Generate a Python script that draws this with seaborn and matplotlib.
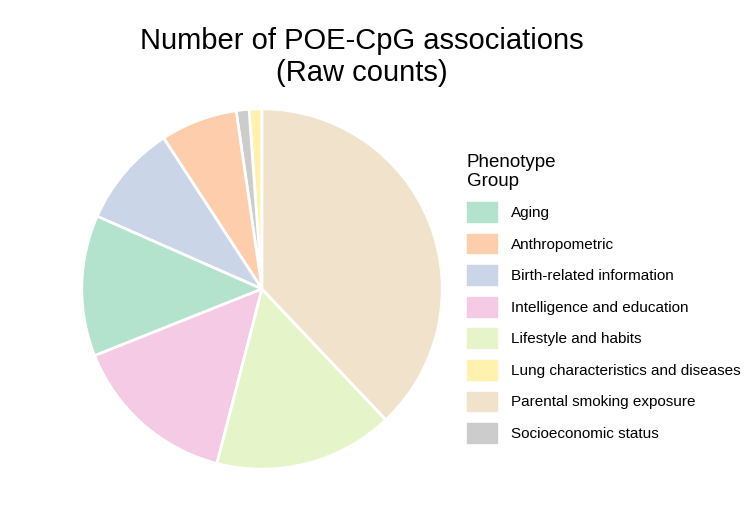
import matplotlib
matplotlib.use("Agg")
import matplotlib.pyplot as plt
import seaborn as sns

categories = ["Aging", "Anthropometric", "Birth-related information", "Intelligence and education",
              "Lifestyle and habits", "Lung characteristics and diseases", "Parental smoking exposure",
              "Socioeconomic status"]
counts = [11, 6, 8, 13, 14, 1, 33, 1]
# drawing order (counterclockwise from top)
draw_order = ["Lung characteristics and diseases", "Socioeconomic status", "Anthropometric",
              "Birth-related information", "Aging", "Intelligence and education",
              "Lifestyle and habits", "Parental smoking exposure"]

pal = dict(zip(categories, sns.color_palette("Pastel2", 8)))
cnt = dict(zip(categories, counts))

fig = plt.figure(figsize=(7.56, 5.27), dpi=100)
ax = fig.add_axes([(262 - 182) / 756, 1 - (289 + 182) / 527, 364 / 756, 364 / 527])
ax.pie([cnt[c] for c in draw_order], colors=[pal[c] for c in draw_order],
       startangle=90, counterclock=True, frame=False,
       wedgeprops=dict(edgecolor="white", linewidth=2))
ax.set_xlim(-1.01, 1.01)
ax.set_ylim(-1.01, 1.01)
ax.set_aspect("equal")
ax.axis("off")
fig.text(362 / 756, 1 - 57 / 527, "Number of POE-CpG associations\n(Raw counts)",
         ha="center", va="center", fontsize=21, family="Liberation Sans", linespacing=1.2)
handles = [plt.Rectangle((0, 0), 1, 1, color=pal[c]) for c in categories]
leg = fig.legend(handles, categories, title="Phenotype\nGroup", loc="upper left",
                 bbox_to_anchor=(453 / 756, 1 - 140 / 527), frameon=False,
                 prop=dict(family="Liberation Sans", size=11), handlelength=2.0, handleheight=1.6,
                 labelspacing=0.78, handletextpad=0.9)
leg.get_title().set_fontsize(13.5)
leg.get_title().set_family("Liberation Sans")
leg._legend_box.align = "left"
fig.savefig("out.png", dpi=100)
